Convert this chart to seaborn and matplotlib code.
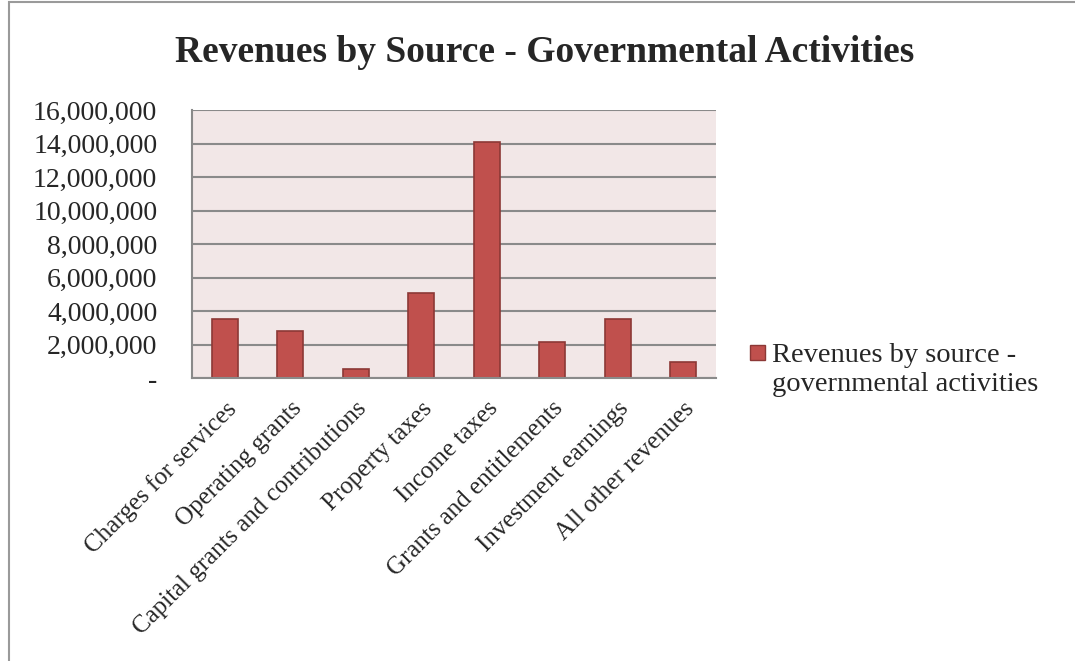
import matplotlib
matplotlib.use("Agg")
import matplotlib.pyplot as plt
import seaborn as sns
import pandas as pd
from matplotlib.patches import Rectangle, Patch
from matplotlib.legend_handler import HandlerPatch
from matplotlib.ticker import FuncFormatter, MultipleLocator

categories = ["Charges for services", "Operating grants", "Capital grants and contributions",
              "Property taxes", "Income taxes", "Grants and entitlements",
              "Investment earnings", "All other revenues"]
values = [3550000, 2790000, 520000, 5050000, 14080000, 2130000, 3550000, 950000]
series_name = "Revenues by source -\ngovernmental activities"
title = "Revenues by Source - Governmental Activities"

df = pd.DataFrame({"category": categories, "value": values})

sns.set_theme(style="white")
plt.rcParams["font.family"] = ["Liberation Serif", "DejaVu Serif"]

fig = plt.figure(figsize=(10.75, 6.61), dpi=100)
ax = fig.add_axes([0.1786, 0.428, 0.4874, 0.4056])

bar_color = "#C0504D"
sns.barplot(data=df, x="category", y="value", ax=ax, color=bar_color, width=0.4,
            edgecolor="#8C3836", linewidth=1.2, saturation=1)

ax.set_facecolor("#F2E7E7")
ax.set_ylim(0, 16000000)
ax.set_xlim(-0.5, len(categories) - 0.5)
ax.yaxis.set_major_locator(MultipleLocator(2000000))
ax.yaxis.set_major_formatter(FuncFormatter(lambda v, p: "-" if v == 0 else f"{int(v):,}"))
ax.grid(axis="y", color="#8A8A8A", linewidth=1.5)
ax.set_axisbelow(True)
for s in ["top", "right"]:
    ax.spines[s].set_visible(False)
for s in ["left", "bottom"]:
    ax.spines[s].set_color("#8A8A8A")
    ax.spines[s].set_linewidth(1.5)
ax.set_xlabel("")
ax.set_ylabel("")
ax.tick_params(axis="y", labelsize=20, length=0, pad=25)
ax.tick_params(axis="x", labelsize=18, length=0, pad=14)
ax.set_xticks(range(len(categories)))
ax.set_xticklabels(categories, rotation=45, ha="right", rotation_mode="anchor")

fig.text(0.507, 0.921, title, ha="center", va="center", fontsize=27, fontweight="bold")


def square_top(legend, orig_handle, xdescent, ydescent, width, height, fontsize):
    sq = 15 * 72 / 100.0
    return Rectangle((-xdescent, -ydescent + height - sq + 2), sq, sq)


handle = Patch(facecolor=bar_color, edgecolor="#8C3836", linewidth=1)
leg = fig.legend([handle], [series_name], loc="upper left", bbox_to_anchor=(0.684, 0.502),
                 frameon=False, fontsize=20.5, handlelength=0.55, handleheight=2.1,
                 handletextpad=0.25, borderpad=0,
                 handler_map={Patch: HandlerPatch(patch_func=square_top)})
leg.get_texts()[0].set_linespacing(1.2)

fig.patches.append(Rectangle((0.008, -0.01), 1.2, 1.007, transform=fig.transFigure,
                             fill=False, edgecolor="#9A9A9A", linewidth=1.5))

fig.savefig("out.png", dpi=100)
